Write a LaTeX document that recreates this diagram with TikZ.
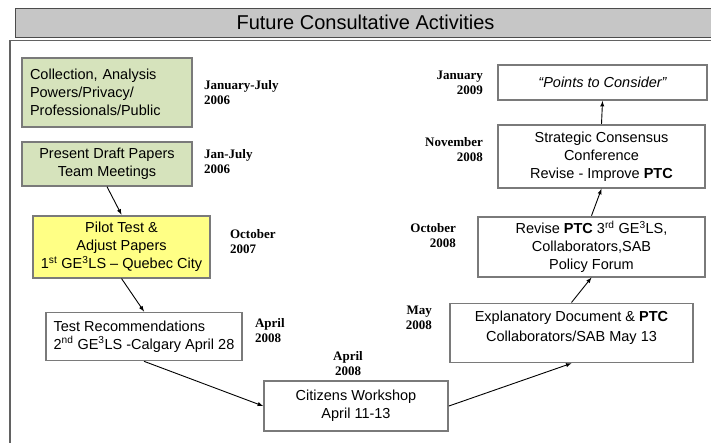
\documentclass[tikz,border=0pt]{standalone}
\usepackage{fontspec}
\setmainfont{Liberation Sans}
\newfontfamily\datefont{Liberation Serif}
\usetikzlibrary{positioning,arrows}
\frenchspacing
\definecolor{boxgreen}{HTML}{D6E3BC}
\definecolor{boxyellow}{HTML}{FFFF85}
\definecolor{boxedge}{HTML}{7A7A7A}
\tikzstyle{titlebar}=[rectangle, draw=gray!60!black, fill=gray!45, line width=1pt, minimum width=701pt, minimum height=29pt, inner sep=0pt, font=\fontsize{20}{24}\selectfont]
\tikzstyle{stepbox}=[rectangle, draw=boxedge, line width=1.8pt, fill=white, inner xsep=2pt, inner ysep=0pt, align=center, font=\fontsize{14.5}{18}\selectfont]
\tikzstyle{greenbox}=[stepbox, fill=boxgreen]
\tikzstyle{yellowbox}=[stepbox, fill=boxyellow]
\tikzstyle{datelbl}=[inner sep=0pt, font=\datefont\bfseries\fontsize{13}{15}\selectfont]
\tikzstyle{arrline}=[-latex, line width=0.9pt]

\begin{document}
\begin{tikzpicture}[x=1pt, y=-1pt, node distance=0pt]
\useasboundingbox[fill=white] (0,0) rectangle (711,442);

    \node (title) [titlebar] at (365.5,22.5) {Future Consultative Activities};
    \draw[boxedge!80!black, line width=1.2pt] (10,460) -- (10,40.5) -- (720,40.5);

    \node (collect) [greenbox, text width=154pt, inner xsep=8pt, minimum height=69pt, align=left] at (107,92.5) {Collection, Analysis\\ Powers/Privacy/\\ Professionals/Public};
    \node (draft) [greenbox, minimum width=170pt, minimum height=44pt, below=13pt of collect] {Present Draft Papers\\ Team Meetings};
    \node (pilot) [yellowbox, minimum width=177pt, minimum height=62pt, below=28pt of draft, xshift=14.5pt] {Pilot Test \&\\ Adjust Papers\\ 1\textsuperscript{st} GE\textsuperscript{3}LS -- Quebec City};
    \node (testrec) [stepbox, minimum width=196pt, minimum height=48pt, align=left, below=33pt of pilot, xshift=22.5pt] {Test Recommendations\\ 2\textsuperscript{nd} GE\textsuperscript{3}LS -Calgary April 28};
    \node (citizens) [stepbox, minimum width=184pt, minimum height=50pt] at (356,406) {Citizens Workshop\\ April 11-13};

    \node (points) [stepbox, minimum width=209pt, minimum height=35pt] at (602.5,82.5) {\itshape ``Points to Consider''};
    \node (strategic) [stepbox, minimum width=207pt, minimum height=63pt, below=23pt of points, xshift=-1pt] {Strategic Consensus\\ Conference\\ Revise - Improve \textbf{PTC}};
    \node (revise) [stepbox, minimum width=227pt, minimum height=60pt, below=27pt of strategic, xshift=-10pt] {Revise \textbf{PTC} 3\textsuperscript{rd} GE\textsuperscript{3}LS,\\ Collaborators,SAB\\ Policy Forum};
    \node (explan) [stepbox, minimum width=243pt, minimum height=59pt, text depth=14pt, below=25pt of revise, xshift=-20pt] {Explanatory Document \& \textbf{PTC}\\[2pt] Collaborators/SAB May 13};

%dates
    \node (dcollect) [datelbl, align=left, right=11pt of collect] {January-July\\ 2006};
    \node (ddraft) [datelbl, align=left, right=11pt of draft, yshift=2.5pt] {Jan-July\\ 2006};
    \node (dpilot) [datelbl, align=left, right=19pt of pilot, yshift=5pt] {October\\ 2007};
    \node (dtestrec) [datelbl, align=left, right=12pt of testrec, yshift=6pt] {April\\ 2008};
    \node (dcitizens) [datelbl, align=center, above=4pt of citizens, xshift=-8pt] {April\\ 2008};
    \node (dexplan) [datelbl, align=right, left=17pt of explan, yshift=15pt] {May\\ 2008};
    \node (drevise) [datelbl, align=right, left=21pt of revise, yshift=11pt] {October\\ 2008};
    \node (dstrategic) [datelbl, align=right, left=14pt of strategic, yshift=7pt] {November\\ 2008};
    \node (dpoints) [datelbl, align=right, left=14pt of points] {January\\ 2009};

%arrows
    \draw[arrline] (draft.south) -- (pilot.north);
    \draw[arrline] (pilot.south) -- (testrec.north);
    \draw[arrline] (testrec.south) -- (citizens.west);
    \draw[arrline] (citizens.east) -- (explan.south);
    \draw[arrline] (explan.north) -- (revise.south);
    \draw[arrline] (revise.north) -- (strategic.south);
    \draw[arrline] (strategic.north) -- (points.south);

\end{tikzpicture}
\end{document}
